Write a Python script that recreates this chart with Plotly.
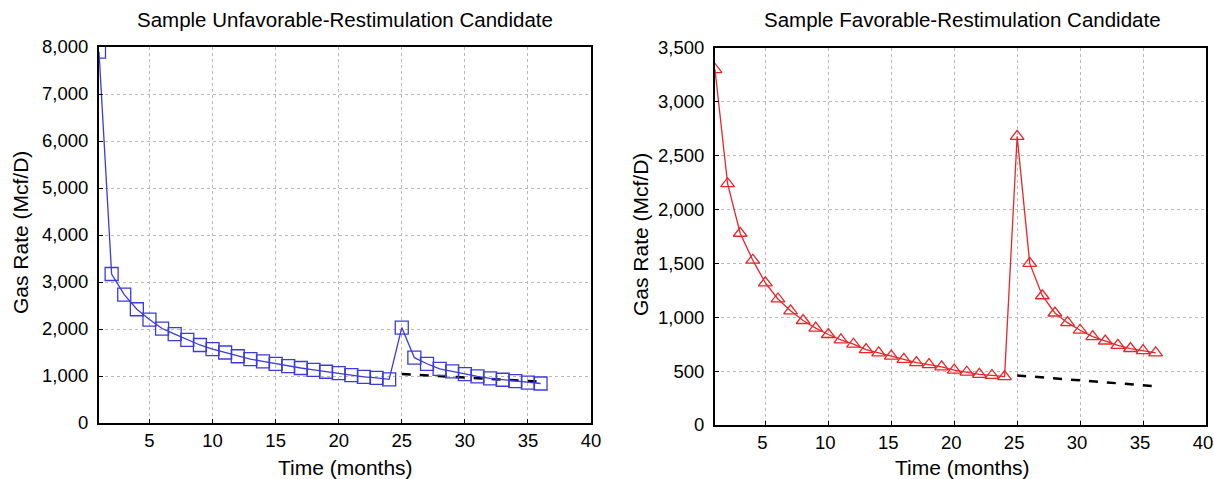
import plotly.graph_objects as go

months = list(range(1, 37))
unfav_rate = [7900, 3170, 2730, 2420, 2200, 2010, 1890, 1770, 1660, 1570, 1500, 1420,
              1360, 1310, 1260, 1210, 1170, 1130, 1090, 1060, 1020, 980, 960, 930,
              2030, 1390, 1260, 1150, 1100, 1040, 990, 950, 920, 890, 860, 840]
unfav_base_x = [25, 36]
unfav_base_y = [1040, 880]

fav_rate = [3300, 2240, 1780, 1530, 1320, 1170, 1060, 970, 900, 840, 790, 750,
            700, 670, 640, 610, 580, 560, 540, 510, 490, 470, 460, 450,
            2680, 1500, 1200, 1040, 950, 880, 820, 780, 740, 710, 690, 670]
fav_base_x = [25, 36]
fav_base_y = [460, 360]

x_ticks = [5, 10, 15, 20, 25, 30, 35, 40]
titles = ["Sample Unfavorable-Restimulation Candidate", "Sample Favorable-Restimulation Candidate"]

FONT = "Liberation Sans, Arial, sans-serif"
BLUE = "#3b3bdc"
RED = "#e8262a"

fig = go.Figure()
fig.add_trace(go.Scatter(x=unfav_base_x, y=unfav_base_y, mode="lines",
                         line=dict(color="black", width=2.5, dash="dash"),
                         xaxis="x", yaxis="y", showlegend=False))
fig.add_trace(go.Scatter(x=months, y=unfav_rate, mode="lines+markers",
                         line=dict(color=BLUE, width=1.3),
                         marker=dict(symbol="square-open", size=13, color=BLUE, line=dict(width=1.3)),
                         xaxis="x", yaxis="y", showlegend=False))
fig.add_trace(go.Scatter(x=fav_base_x, y=fav_base_y, mode="lines",
                         line=dict(color="black", width=2.5, dash="dash"),
                         xaxis="x2", yaxis="y2", showlegend=False))
fig.add_trace(go.Scatter(x=months, y=fav_rate, mode="lines+markers",
                         line=dict(color=RED, width=1.3),
                         marker=dict(symbol="triangle-up-open", size=12, color=RED, line=dict(width=1.3)),
                         xaxis="x2", yaxis="y2", showlegend=False))

W, H = 1214, 479
def px_x(p): return p / W
def px_y(p): return 1 - p / H

axis_common = dict(showline=True, linecolor="black", linewidth=2, mirror=True,
                   showgrid=True, gridcolor="#b8b8b8", griddash="dot", gridwidth=1,
                   ticks="inside", ticklen=4, tickcolor="black", zeroline=False,
                   automargin=False, ticklabeloverflow="allow",
                   tickfont=dict(family=FONT, size=18.5, color="black"))

def ann(text, x, y, size, angle=0):
    return dict(text=text, x=px_x(x), y=px_y(y), xref="paper", yref="paper",
                xanchor="center", yanchor="middle", showarrow=False, textangle=angle,
                font=dict(family=FONT, size=size, color="black"))

fig.update_layout(
    template="none",
    width=W, height=H, margin=dict(l=0, r=0, t=0, b=0, pad=0),
    paper_bgcolor="white", plot_bgcolor="white",
    xaxis=dict(domain=[px_x(99), px_x(591)], range=[1, 40], tickvals=x_ticks,
               anchor="y", ticklabelstandoff=0, **axis_common),
    yaxis=dict(domain=[px_y(423), px_y(47)], range=[0, 8000], dtick=1000,
               tickformat=",d", anchor="x", ticklabelstandoff=5, **axis_common),
    xaxis2=dict(domain=[px_x(715), px_x(1206)], range=[1, 40], tickvals=x_ticks,
                anchor="y2", ticklabelstandoff=0, ticklabelshift=-3, **axis_common),
    yaxis2=dict(domain=[px_y(425), px_y(48)], range=[0, 3500], dtick=500,
                tickformat=",d", anchor="x2", ticklabelstandoff=5, **axis_common),
    annotations=[
        ann(titles[0], 345, 19, 20.5),
        ann(titles[1], 962, 19, 20.5),
        ann("Time (months)", 345, 467, 21),
        ann("Time (months)", 962, 467, 21),
        ann("Gas Rate (Mcf/D)", 20, 233, 21, -90),
        ann("Gas Rate (Mcf/D)", 640, 235, 21, -90),
    ],
)

fig.write_html("out.html")
